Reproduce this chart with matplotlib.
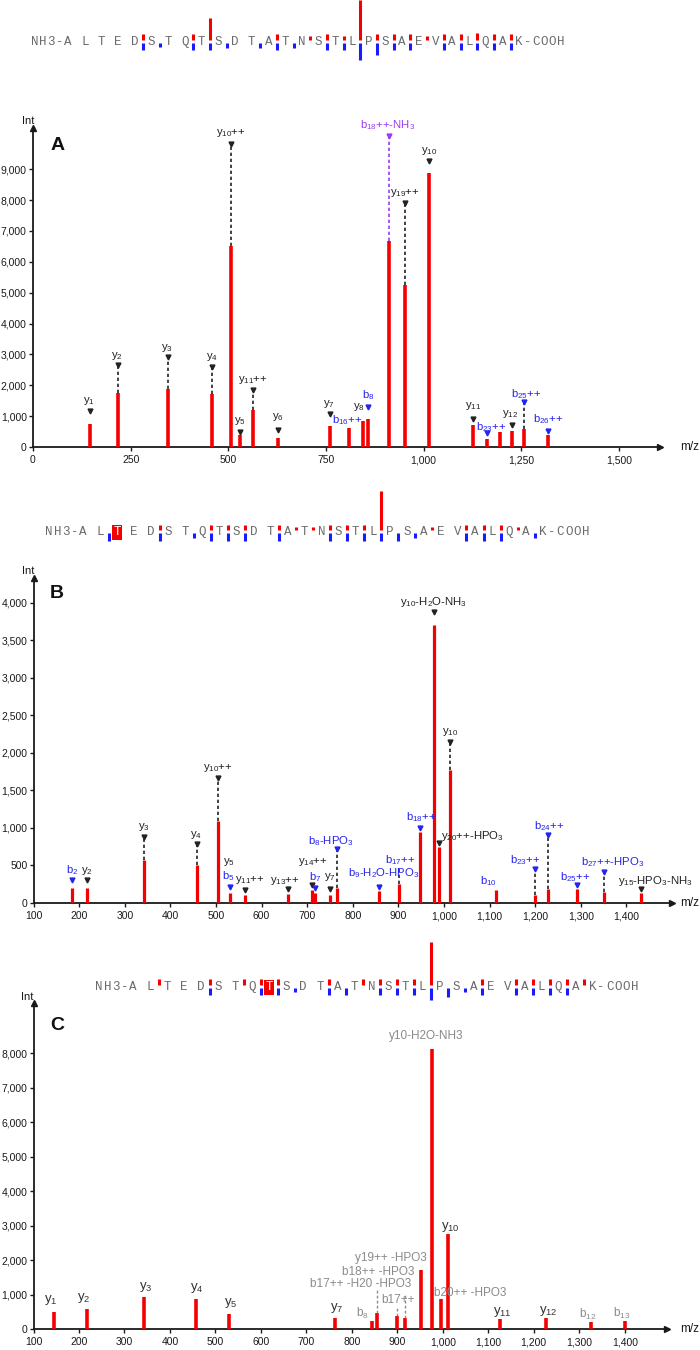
import matplotlib
matplotlib.use('Agg')
import matplotlib.pyplot as plt
from matplotlib.ticker import FuncFormatter

plt.rcParams['font.family'] = ['Liberation Sans', 'DejaVu Sans']
plt.rcParams['mathtext.fontset'] = 'custom'
plt.rcParams['mathtext.rm'] = 'Liberation Sans'
plt.rcParams['mathtext.it'] = 'Liberation Sans:italic'
plt.rcParams['mathtext.bf'] = 'Liberation Sans:bold'

# ---------------- data ----------------
SEQ = ['A', 'L', 'T', 'E', 'D', 'S', 'T', 'Q', 'T', 'S', 'D', 'T', 'A', 'T',
       'N', 'S', 'T', 'L', 'P', 'S', 'A', 'E', 'V', 'A', 'L', 'Q', 'A', 'K']

# fragment coverage bars between residues (upper red / lower blue)
hdr_a_red = [0, 0, 0, 0, 6, 0, 0, 6, 22, 0, 0, 0, 6, 0, 4, 6, 4, 40, 6, 6, 6, 4, 6, 6, 7, 6, 6]
hdr_a_blue = [0, 0, 0, 0, 7, 4, 0, 7, 7, 5, 0, 5, 7, 5, 0, 7, 7, 17, 12, 7, 7, 0, 7, 7, 7, 7, 7]
hdr_b_red = [0, 0, 0, 0, 5, 0, 0, 5, 5, 5, 0, 5, 3, 3, 5, 5, 5, 39, 0, 0, 3, 0, 5, 5, 5, 3, 0]
hdr_b_blue = [0, 8, 0, 0, 8, 0, 5, 8, 8, 8, 0, 8, 0, 0, 8, 8, 8, 8, 8, 5, 0, 0, 8, 8, 8, 0, 5]
hdr_c_red = [0, 6, 0, 0, 6, 0, 6, 6, 6, 0, 0, 6, 0, 6, 6, 6, 6, 43, 0, 0, 6, 0, 6, 6, 6, 6, 6]
hdr_c_blue = [0, 0, 0, 0, 7, 0, 0, 7, 7, 4, 0, 7, 7, 0, 7, 7, 7, 12, 9, 4, 7, 0, 7, 7, 7, 7, 0]
hdr_b_mod = 2   # phosphorylated residue (index in SEQ)
hdr_c_mod = 8

# Panel A
a_mz = [147, 217, 345, 458, 507, 530, 562, 627, 760, 810, 845, 857, 911, 951, 1014,
        1126, 1162, 1195, 1227, 1256, 1318]
a_int = [740, 1737, 1890, 1716, 6504, 400, 1194, 293, 673, 608, 847, 923, 6667, 5233,
         8882, 717, 260, 478, 532, 597, 402]
a_lab = ['y$_1$', 'y$_2$', 'y$_3$', 'y$_4$', 'y$_{10}$++', 'y$_5$', 'y$_{11}$++', 'y$_6$',
         'y$_7$', 'b$_{16}$++', 'y$_8$', 'b$_8$', 'b$_{18}$++-NH$_3$', 'y$_{19}$++',
         'y$_{10}$', 'y$_{11}$', 'b$_{23}$++', 'y$_{12}$', 'b$_{25}$++', 'b$_{26}$++']
a_col = ['k', 'k', 'k', 'k', 'k', 'k', 'k', 'k', 'k', 'b', 'k', 'b', 'p', 'k', 'k', 'k',
         'b', 'k', 'b', 'b']
a_lab_mz = [143, 214, 344, 458, 507, 529, 563, 627, 758, 804, 834, 858, 909, 951, 1014,
            1126, 1172, 1222, 1263, 1319]
a_lab_int = [1487, 2953, 3203, 2910, 10174, 836, 2172, 977, 1379, 869, 1281, 1672, 10445,
             8230, 9587, 1325, 660, 1080, 1716, 890]
a_mark_mz = [147, 217, 345, 458, 507, 530, 562, 627, 760, None, None, 857, 911, 951, 1014,
             1126, 1162, 1227, 1256, 1318]
a_mark_int = [1160, 2660, 2900, 2606, 9826, 490, 1835, 543, 1075, None, None, 1292, 10076,
              7904, 9273, 901, 456, 717, 1444, 521]
a_dash = [0, 1, 1, 1, 1, 0, 1, 0, 0, 0, 0, 0, 1, 1, 0, 0, 0, 0, 1, 0]
a_xticks = [0, 250, 500, 750, 1000, 1250, 1500]
a_yticks = [0, 1000, 2000, 3000, 4000, 5000, 6000, 7000, 8000, 9000]

# Panel B
b_mz = [185, 218, 343, 459, 505, 530, 563, 658, 711, 717, 749, 765, 858, 902, 948, 977,
        990, 1013, 1113, 1200, 1228, 1291, 1351, 1433]
b_int = [204, 204, 578, 511, 1089, 133, 107, 124, 178, 133, 107, 200, 160, 258, 942, 3711,
         747, 1778, 178, 107, 187, 187, 151, 133]
b_lab = ['b$_2$', 'y$_2$', 'y$_3$', 'y$_4$', 'y$_{10}$++', 'y$_5$', 'b$_5$', 'y$_{11}$++',
         'y$_{13}$++', 'y$_{14}$++', 'b$_7$', 'y$_7$', 'b$_8$-HPO$_3$',
         'b$_9$-H$_2$O-HPO$_3$', 'b$_{17}$++', 'b$_{18}$++', 'y$_{10}$-H$_2$O-NH$_3$',
         'y$_{20}$++-HPO$_3$', 'y$_{10}$', 'b$_{10}$', 'b$_{23}$++', 'b$_{24}$++',
         'b$_{25}$++', 'b$_{27}$++-HPO$_3$', 'y$_{15}$-HPO$_3$-NH$_3$']
b_col = ['b', 'k', 'k', 'k', 'k', 'k', 'b', 'k', 'k', 'k', 'b', 'k', 'b', 'b', 'b', 'b', 'k',
         'k', 'k', 'b', 'b', 'b', 'b', 'b', 'k']
b_lab_mz = [184, 216, 341, 457, 505, 528, 528, 575, 652, 713, 717, 750, 752, 867, 903, 949,
            977, 1062, 1013, 1097, 1178, 1230, 1287, 1371, 1464]
b_lab_int = [444, 431, 1013, 911, 1796, 542, 356, 302, 289, 542, 347, 347, 822, 400, 569,
             1147, 4018, 898, 2276, 289, 569, 1031, 347, 542, 289]
b_mark_mz = [185, 218, 343, 459, 505, None, 530, 563, 658, 711, 717, 749, 765, 858, 902,
             948, 977, 990, 1013, None, 1200, 1228, 1291, 1351, 1433]
b_mark_int = [311, 311, 876, 787, 1662, None, 213, 178, 187, 236, 200, 187, 720, 213, 467,
              996, 3880, 800, 2147, None, 453, 911, 240, 409, 191]
b_mark_show = [1, 1, 1, 1, 1, 0, 1, 1, 1, 1, 1, 1, 1, 1, 0, 1, 1, 1, 1, 0, 1, 1, 1, 1, 1]
b_dash = [0, 0, 1, 1, 1, 0, 0, 0, 0, 0, 0, 0, 1, 0, 1, 0, 0, 0, 1, 0, 1, 1, 0, 1, 0]
bc_xticks = [100, 200, 300, 400, 500, 600, 700, 800, 900, 1000, 1100, 1200, 1300, 1400]
b_yticks = [0, 500, 1000, 1500, 2000, 2500, 3000, 3500, 4000]

# Panel C
c_mz = [144, 217, 343, 458, 529, 763, 844, 856, 900, 917, 952, 976, 996, 1012, 1125,
        1228, 1326, 1400]
c_int = [494, 571, 920, 862, 426, 310, 223, 465, 368, 320, 1714, 8135, 862, 2760, 290,
         310, 194, 223]
c_lab = ['y$_1$', 'y$_2$', 'y$_3$', 'y$_4$', 'y$_5$', 'y$_7$', 'b$_8$',
         'b17++ -H20 -HPO3', 'b18++ -HPO3', 'y19++ -HPO3', 'b17++', 'y10-H2O-NH3',
         'y$_{10}$', 'b20++ -HPO3', 'y$_{11}$', 'y$_{12}$', 'b$_{12}$', 'b$_{13}$']
c_col = ['d', 'd', 'd', 'd', 'd', 'd', 'g', 'g', 'g', 'g', 'g', 'g', 'd', 'g', 'd', 'd',
         'g', 'g']
c_lab_mz = [137, 210, 346, 460, 533, 766, 824, 819, 858, 885, 902, 963, 1016, 1060, 1130,
            1232, 1319, 1394]
c_lab_int = [843, 891, 1230, 1182, 765, 600, 455, 1307, 1666, 2053, 843, 8513, 2973, 1036,
             504, 523, 436, 455]
c_dash_mz = [856, 900, 917]
c_dash_from = [1133, 649, 1056]
c_yticks = [0, 1000, 2000, 3000, 4000, 5000, 6000, 7000, 8000]

# ---------------- style ----------------
RED = '#f50000'
COLORS = {'k': '#222222', 'b': '#2424f0', 'p': '#9a3cf0', 'g': '#8a8a8a', 'd': '#333333'}
FIG_W, FIG_H = 700, 1350

fig = plt.figure(figsize=(7, 13.5), dpi=100)


def px_rect(x0, x1, ytop, ybot):
    return [x0 / FIG_W, 1 - ybot / FIG_H, (x1 - x0) / FIG_W, (ybot - ytop) / FIG_H]


def thousands(v, p):
    return f'{int(round(v)):,}'


def setup_axis(ax, xlim, ylim, xticks, yticks, letter, letter_xy, int_xy, mz_xy):
    ax.set_facecolor('none')
    ax.set_xlim(*xlim)
    ax.set_ylim(*ylim)
    for s in ['top', 'right']:
        ax.spines[s].set_visible(False)
    for s in ['left', 'bottom']:
        ax.spines[s].set_color('#1a1a1a')
        ax.spines[s].set_linewidth(1.3)
    ax.set_xticks(xticks)
    ax.set_yticks(yticks)
    ax.xaxis.set_major_formatter(FuncFormatter(thousands))
    ax.yaxis.set_major_formatter(FuncFormatter(thousands))
    ax.tick_params(direction='out', length=3, width=1, labelsize=7.5, pad=1.5,
                   colors='#1a1a1a')
    ax.tick_params(axis='x', pad=3)
    ax.plot(0, 1, '^', transform=ax.transAxes, clip_on=False, color='#1a1a1a', ms=5,
            zorder=5)
    ax.plot(1, 0, '>', transform=ax.transAxes, clip_on=False, color='#1a1a1a', ms=5,
            zorder=5)
    fig.text(letter_xy[0] / FIG_W, 1 - letter_xy[1] / FIG_H, letter, fontsize=14,
             fontweight='bold', ha='center', va='center', color='#111111')
    fig.text(int_xy[0] / FIG_W, 1 - int_xy[1] / FIG_H, 'Int', fontsize=8, ha='center',
             va='center', color='#1a1a1a')
    fig.text(mz_xy[0] / FIG_W, 1 - mz_xy[1] / FIG_H, 'm/z', fontsize=8.5, ha='center',
             va='center', color='#1a1a1a')


def draw_peaks(ax, mz, inten, lw):
    ax.vlines(mz, 0, inten, colors=RED, linewidth=lw, zorder=3)


def draw_ann(ax, mz, inten, labs, cols, lab_mz, lab_int, mark_mz, mark_int, dash,
             show=None, fs=8.2):
    for i, t in enumerate(labs):
        c = COLORS[cols[i]]
        ax.text(lab_mz[i], lab_int[i], t, color=c, fontsize=fs, ha='center', va='center',
                clip_on=False, zorder=6)
        if mark_mz[i] is None:
            continue
        if show is None or show[i]:
            ax.plot(mark_mz[i], mark_int[i], 'v', color=c, ms=3.5, clip_on=False, zorder=6)
        if dash[i]:
            top = inten[mz.index(mark_mz[i])]
            ax.vlines(mark_mz[i], top, mark_int[i], colors=c if cols[i] != 'b' else '#222222',
                      linestyles=(0, (2, 1.6)), linewidth=1.2, zorder=4, clip_on=False)


# Panel A
axA = fig.add_axes(px_rect(33, 660, 128, 447))
setup_axis(axA, (0, 1605), (0, 10336), a_xticks, a_yticks, 'A', (58, 146), (28, 121),
           (690, 447))
draw_peaks(axA, a_mz, a_int, 2.6)
draw_ann(axA, a_mz, a_int, a_lab, a_col, a_lab_mz, a_lab_int, a_mark_mz, a_mark_int, a_dash)

# Panel B
axB = fig.add_axes(px_rect(33.6, 672, 578, 903))
setup_axis(axB, (100, 1500), (0, 4333), bc_xticks, b_yticks, 'B', (57, 593), (28, 571),
           (690, 903))
draw_peaks(axB, b_mz, b_int, 2.3)
draw_ann(axB, b_mz, b_int, b_lab, b_col, b_lab_mz, b_lab_int, b_mark_mz, b_mark_int,
         b_dash, show=b_mark_show)

# Panel C
axC = fig.add_axes(px_rect(33.5, 667, 1003, 1329))
setup_axis(axC, (100, 1493), (0, 9460), bc_xticks, c_yticks, 'C', (57, 1026), (27, 997),
           (690, 1329))
draw_peaks(axC, c_mz, c_int, 2.6)
for i, t in enumerate(c_lab):
    axC.text(c_lab_mz[i], c_lab_int[i], t, color=COLORS[c_col[i]],
             fontsize=9.5 if c_col[i] == 'd' else 8.5, ha='center', va='center', zorder=6)
for i, m in enumerate(c_dash_mz):
    axC.vlines(m, c_int[c_mz.index(m)], c_dash_from[i], colors='#8a8a8a',
               linestyles=(0, (2, 1.6)), linewidth=1.0, zorder=4)

# ---------------- sequence headers ----------------
hx = fig.add_axes([0, 0, 1, 1], zorder=-1)
hx.set_xlim(0, FIG_W)
hx.set_ylim(FIG_H, 0)
hx.axis('off')


def draw_header(x0, step, yc, reds, blues, mod=None):
    chars = list('NH3-')
    for k, r in enumerate(SEQ):
        chars.append(r)
        if k < len(SEQ) - 1:
            chars.append(' ')
    chars += list('-COOH')
    mod_char = None if mod is None else 4 + 2 * mod
    for i, ch in enumerate(chars):
        if ch == ' ':
            continue
        if i == mod_char:
            hx.text(x0 + i * step, yc, ch, ha='center', va='center', fontsize=9,
                    family='Liberation Mono', color='white',
                    bbox=dict(boxstyle='square,pad=0.12', fc=RED, ec='none'))
        else:
            hx.text(x0 + i * step, yc, ch, ha='center', va='center', fontsize=9,
                    family='Liberation Mono', color='#6a6a6a')
    for g in range(len(SEQ) - 1):
        x = x0 + (5 + 2 * g) * step
        if reds[g]:
            hx.vlines(x, yc - 2 - reds[g], yc - 2, colors=RED, linewidth=2.2)
        if blues[g]:
            hx.vlines(x, yc + 0.5, yc + 0.5 + blues[g], colors='#1a1aff', linewidth=2.2)


draw_header(34.7, 8.35, 42, hdr_a_red, hdr_a_blue)
draw_header(49, 8.52, 532, hdr_b_red, hdr_b_blue, hdr_b_mod)
draw_header(99, 8.51, 987, hdr_c_red, hdr_c_blue, hdr_c_mod)

fig.savefig('out.png', dpi=100)
